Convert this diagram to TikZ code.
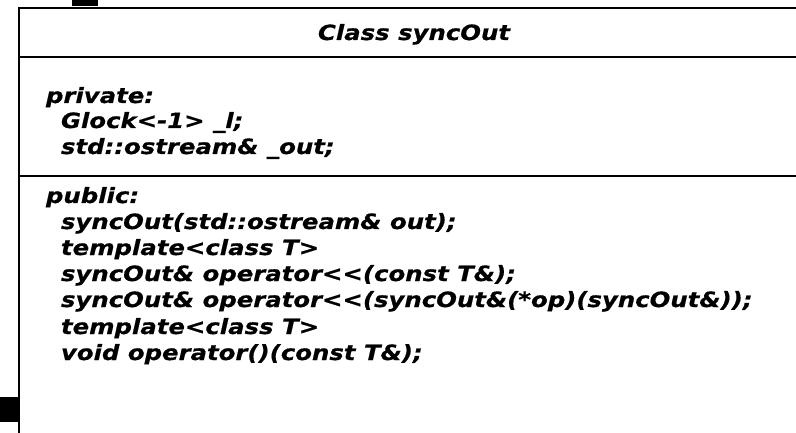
\documentclass[tikz,border=0pt]{standalone}
\usepackage{fontspec}
\newfontfamily\umlfont{DejaVu Sans}[FakeStretch=1.16,FakeBold=0.6]
\begin{document}
\begin{tikzpicture}[x=1pt,y=-1pt,line width=2pt,
  member/.style={anchor=base west,inner sep=0pt,
    font=\umlfont\bfseries\itshape\fontsize{21}{26}\selectfont}]
\useasboundingbox (0,0) rectangle (796,433);
% frame of the class box, cut off at the right and bottom
\fill (72,0) rectangle (98,6);
\fill (0,397) rectangle (19,422);
\draw (19,433) -- (19,8) -- (796,8);
\draw (19,57) -- (796,57);
\draw (19,176) -- (796,176);

\node[member,anchor=base] (title) at (414,40) {Class syncOut};

\node[member] (priv) at (45,103) {private:};
\node[member] (lock) at (60,128) {Glock<-1> \_l;};
\node[member] (out) at (60,154) {std::ostream\& \_out;};

\node[member] (pub) at (45,203) {public:};
\node[member] (ctor) at (60,229) {syncOut(std::ostream\& out);};
\node[member] (tpla) at (60,255) {template<class T>};
\node[member] (opa) at (60,281) {syncOut\& operator<{}<(const T\&);};
\node[member] (opb) at (60,307) {syncOut\& operator<{}<(syncOut\&(*op)(syncOut\&));};
\node[member] (tplb) at (60,334) {template<class T>};
\node[member] (call) at (60,360) {void operator()(const T\&);};
\end{tikzpicture}
\end{document}
